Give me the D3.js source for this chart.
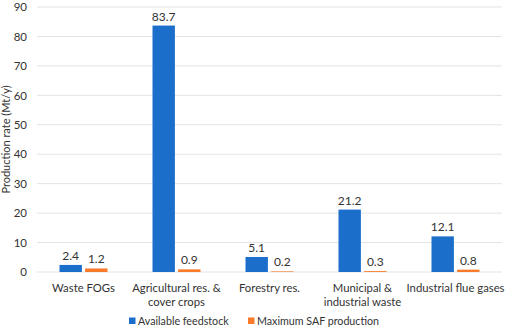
<!DOCTYPE html>
<html>
<head>
<meta charset="utf-8">
<script src="https://cdn.jsdelivr.net/npm/d3@7"></script>
<style>
  body { margin: 0; background: #fff; }
  text { font-family: Lato, "Open Sans", "DejaVu Sans", sans-serif; fill: #333; }
</style>
</head>
<body>
<svg id="chart" width="505" height="329"></svg>
<script>
// data
const categories = [
    ['Waste FOGs'],
    ['Agricultural res. &', 'cover crops'],
    ['Forestry res.'],
    ['Municipal &', 'industrial waste'],
    ['Industrial flue gases']
];
const seriesNames = ['Available feedstock', 'Maximum SAF production'];
const feedstock = [2.4, 83.7, 5.1, 21.2, 12.1];
const safProduction = [1.2, 0.9, 0.2, 0.3, 0.8];
const yTicks = [0, 10, 20, 30, 40, 50, 60, 70, 80, 90];

const colors = ['#1b6fcb', '#f77b2a'];

const svg = d3.select('#chart');
const margin = { top: 7, right: 3, bottom: 57, left: 37 };
const width = 505 - margin.left - margin.right;
const height = 329 - margin.top - margin.bottom;

const g = svg.append('g')
    .attr('transform', `translate(${margin.left},${margin.top})`);

const x0 = d3.scaleBand()
    .domain(d3.range(categories.length))
    .range([0, width]);

const x1 = d3.scaleBand()
    .domain([0, 1])
    .range([x0.bandwidth() / 2 - 24, x0.bandwidth() / 2 + 24])
    .paddingInner(0.125);

const y = d3.scaleLinear()
    .domain([0, 90])
    .range([height, 0]);

// gridlines
g.append('g')
    .selectAll('line')
    .data(yTicks)
    .join('line')
    .attr('x1', 0)
    .attr('x2', width)
    .attr('y1', d => y(d))
    .attr('y2', d => y(d))
    .attr('stroke', '#e3e3e3')
    .attr('stroke-width', 1);

// y axis labels
const yAxis = g.append('g')
    .call(d3.axisLeft(y).tickValues(yTicks).tickSize(0).tickPadding(10));
yAxis.select('.domain').remove();
yAxis.selectAll('text')
    .style('font-family', 'Lato, sans-serif')
    .style('font-size', '11.5px')
    .style('fill', '#333');

// y title
svg.append('text')
    .attr('transform', `translate(10,${margin.top + height / 2}) rotate(-90)`)
    .attr('text-anchor', 'middle')
    .style('font-size', '11px')
    .text('Production rate (Mt/y)');

// bars
const rows = categories.map((c, i) => [feedstock[i], safProduction[i]]);

const groups = g.selectAll('.cat')
    .data(rows)
    .join('g')
    .attr('class', 'cat')
    .attr('transform', (d, i) => `translate(${x0(i)},0)`);

groups.selectAll('rect')
    .data(d => d)
    .join('rect')
    .attr('x', (d, j) => x1(j))
    .attr('width', x1.bandwidth())
    .attr('y', d => y(d))
    .attr('height', d => Math.max(0, height - y(d)))
    .attr('fill', (d, j) => colors[j]);

groups.selectAll('.val')
    .data(d => d)
    .join('text')
    .attr('class', 'val')
    .attr('x', (d, j) => x1(j) + x1.bandwidth() / 2)
    .attr('y', d => y(d) - 5)
    .attr('text-anchor', 'middle')
    .style('font-size', '12px')
    .text(d => d.toFixed(1));

// category labels
const catLabels = g.append('g')
    .attr('transform', `translate(0,${height})`);

categories.forEach((lines, i) => {
    const t = catLabels.append('text')
        .attr('x', x0(i) + x0.bandwidth() / 2)
        .attr('y', 20)
        .attr('text-anchor', 'middle')
        .style('font-size', '11.3px');
    lines.forEach((line, k) => {
        t.append('tspan')
            .attr('x', x0(i) + x0.bandwidth() / 2)
            .attr('dy', k === 0 ? 0 : 13.5)
            .text(line);
    });
});

// legend
const legendX = [129, 248];
const legend = svg.append('g')
    .attr('transform', 'translate(0,321)');

seriesNames.forEach((name, i) => {
    const item = legend.append('g')
        .attr('transform', `translate(${legendX[i]},0)`);
    item.append('rect')
        .attr('x', 0)
        .attr('y', -3.5)
        .attr('width', 6.5)
        .attr('height', 6.5)
        .attr('fill', colors[i]);
    item.append('text')
        .attr('x', 9)
        .attr('y', 4)
        .style('font-size', '10.7px')
        .text(name);
});
</script>
</body>
</html>
